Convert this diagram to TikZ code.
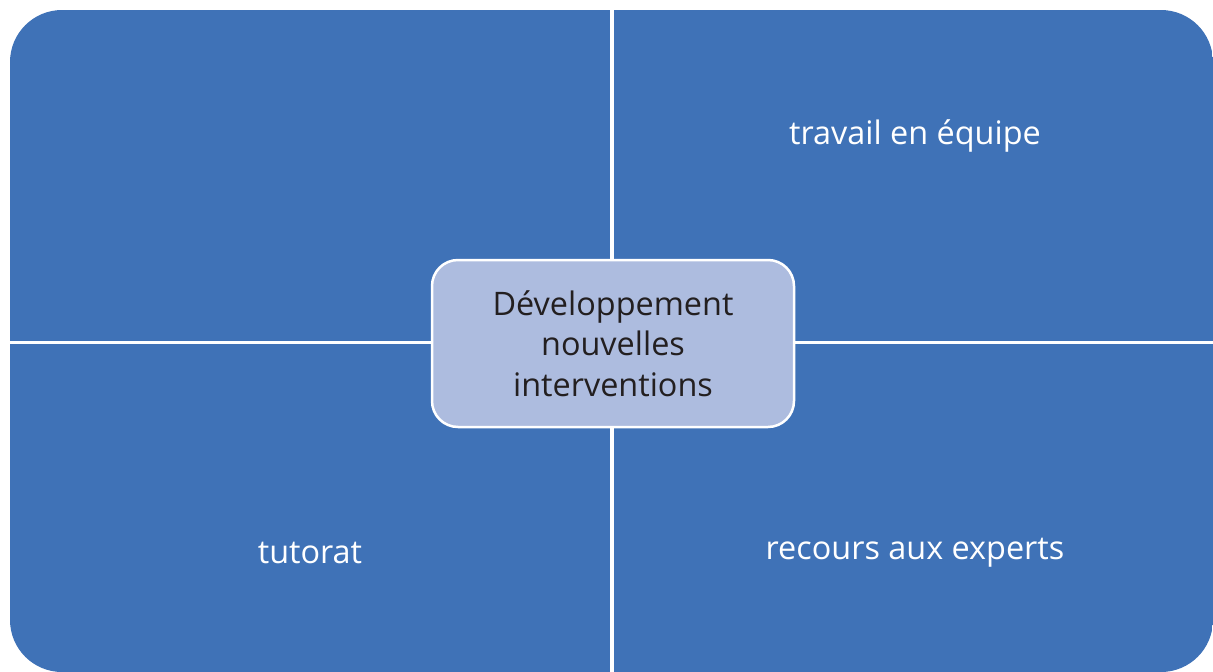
\documentclass[tikz,border=0pt]{standalone}
\usepackage{fontspec}
\setmainfont{Open Sans}
\definecolor{quadblue}{HTML}{3F72B7}
\definecolor{centerfill}{HTML}{ADBCDF}
\definecolor{textdark}{HTML}{231F20}
\tikzset{
  quadtext/.style={text=white, font=\fontsize{32.4}{38}\selectfont, inner sep=0pt},
  centerbox/.style={rounded corners=26pt, fill=centerfill, draw=white, line width=2.5pt,
    minimum width=362pt, minimum height=167pt, align=center, text=textdark,
    font=\fontsize{32.4}{40.5}\selectfont, inner sep=0pt}
}
\begin{document}
\begin{tikzpicture}[x=1pt,y=-1pt]
\useasboundingbox (0,0) rectangle (1213,672);
\begin{scope}
  \clip[rounded corners=52pt] (10,10) rectangle (1213,672);
  \fill[quadblue] (0,0) rectangle (610,340.5);
  \fill[quadblue] (614,0) rectangle (1220,340.5);
  \fill[quadblue] (0,343.5) rectangle (610,680);
  \fill[quadblue] (614,343.5) rectangle (1220,680);
\end{scope}
\node[quadtext] (tr) at (915,136) {travail en équipe};
\node[quadtext] (bl) at (310,553) {tutorat};
\node[quadtext] (br) at (915,553) {recours aux experts};
\node[centerbox] (c) at (613,343.5) {Développement\\nouvelles\\interventions};
\end{tikzpicture}
\end{document}
